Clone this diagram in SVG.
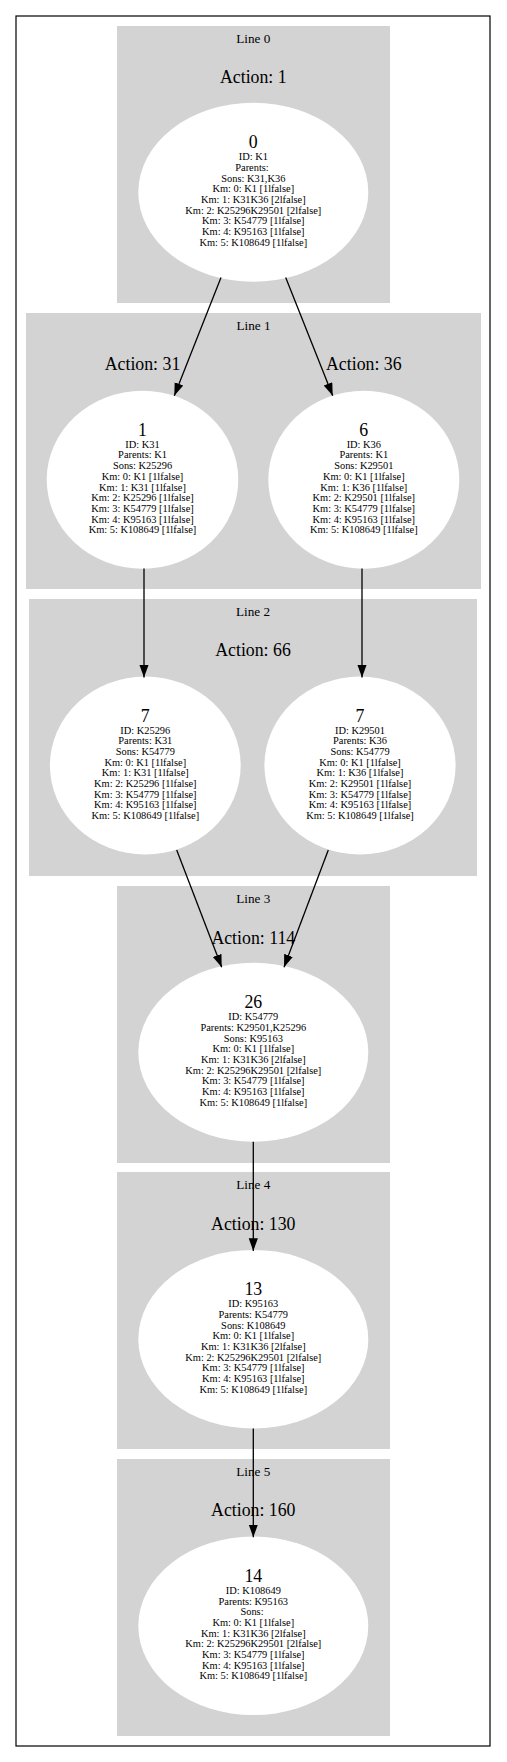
<svg xmlns="http://www.w3.org/2000/svg" width="507" height="1762" viewBox="0 0 507 1762">
<style>
  .bg { fill: #ffffff; }
  .frame { fill: none; stroke: #000000; stroke-width: 1.2; }
  .cluster { fill: #d3d3d3; stroke: none; }
  .node { fill: #ffffff; stroke: none; }
  text { font-family: "Liberation Serif", "Times New Roman", serif; fill: #000000; text-anchor: middle; }
  .clabel { font-size: 13.2px; }
  .action { font-size: 17.8px; }
  .num { font-size: 17.8px; }
  .small { font-size: 10.4px; }
  .edge { fill: none; stroke: #000000; stroke-width: 1.3; }
</style>
<defs>
  <marker id="arrow" markerUnits="userSpaceOnUse" markerWidth="13" markerHeight="10" refX="12.7" refY="4.6" orient="auto">
    <path d="M0,0 L12.7,4.6 L0,9.2 z" fill="#000000"/>
  </marker>
</defs>
<rect class="bg" x="0" y="0" width="507" height="1762"/>
<rect class="frame" x="16" y="16" width="474" height="1730"/>

<g id="clusters">
  <g id="cluster-line0">
    <rect class="cluster" x="117" y="26" width="273" height="277"/>
    <text class="clabel" x="253.3" y="42.7">Line 0</text>
    <text class="action" x="253.3" y="83">Action: 1</text>
  </g>
  <g id="cluster-line1">
    <rect class="cluster" x="26" y="313" width="455" height="276"/>
    <text class="clabel" x="253.5" y="329.5">Line 1</text>
    <text class="action" x="142.5" y="370">Action: 31</text>
    <text class="action" x="363.8" y="370">Action: 36</text>
  </g>
  <g id="cluster-line2">
    <rect class="cluster" x="29" y="599" width="448" height="277"/>
    <text class="clabel" x="253" y="615.7">Line 2</text>
    <text class="action" x="253" y="656">Action: 66</text>
  </g>
  <g id="cluster-line3">
    <rect class="cluster" x="117" y="886" width="273" height="277"/>
    <text class="clabel" x="253.3" y="902.7">Line 3</text>
    <text class="action" x="253.3" y="944">Action: 114</text>
  </g>
  <g id="cluster-line4">
    <rect class="cluster" x="117" y="1172" width="273" height="277"/>
    <text class="clabel" x="253.3" y="1188.7">Line 4</text>
    <text class="action" x="253.3" y="1229.5">Action: 130</text>
  </g>
  <g id="cluster-line5">
    <rect class="cluster" x="117" y="1459" width="273" height="277"/>
    <text class="clabel" x="253.3" y="1475.7">Line 5</text>
    <text class="action" x="253.3" y="1516">Action: 160</text>
  </g>
</g>

<g id="node-K1">
  <ellipse class="node" cx="253.3" cy="192.2" rx="115" ry="89.5"/>
  <text class="num" x="253.3" y="148.3">0</text>
  <text class="small" x="253.3" y="160.2"><tspan x="253.3">ID: K1</tspan><tspan x="253.3" dy="10.7">Parents: </tspan><tspan x="253.3" dy="10.7">Sons: K31,K36</tspan><tspan x="253.3" dy="10.7">Km: 0: K1 [1lfalse]</tspan><tspan x="253.3" dy="10.7">Km: 1: K31K36 [2lfalse]</tspan><tspan x="253.3" dy="10.7">Km: 2: K25296K29501 [2lfalse]</tspan><tspan x="253.3" dy="10.7">Km: 3: K54779 [1lfalse]</tspan><tspan x="253.3" dy="10.7">Km: 4: K95163 [1lfalse]</tspan><tspan x="253.3" dy="10.7">Km: 5: K108649 [1lfalse]</tspan></text>
</g>

<g id="node-K31">
  <ellipse class="node" cx="142.5" cy="479.7" rx="95.8" ry="89"/>
  <text class="num" x="142.5" y="435.7">1</text>
  <text class="small" x="142.5" y="447.7"><tspan x="142.5">ID: K31</tspan><tspan x="142.5" dy="10.7">Parents: K1</tspan><tspan x="142.5" dy="10.7">Sons: K25296</tspan><tspan x="142.5" dy="10.7">Km: 0: K1 [1lfalse]</tspan><tspan x="142.5" dy="10.7">Km: 1: K31 [1lfalse]</tspan><tspan x="142.5" dy="10.7">Km: 2: K25296 [1lfalse]</tspan><tspan x="142.5" dy="10.7">Km: 3: K54779 [1lfalse]</tspan><tspan x="142.5" dy="10.7">Km: 4: K95163 [1lfalse]</tspan><tspan x="142.5" dy="10.7">Km: 5: K108649 [1lfalse]</tspan></text>
</g>

<g id="node-K36">
  <ellipse class="node" cx="363.8" cy="479.7" rx="95.5" ry="89"/>
  <text class="num" x="363.8" y="435.7">6</text>
  <text class="small" x="363.8" y="447.7"><tspan x="363.8">ID: K36</tspan><tspan x="363.8" dy="10.7">Parents: K1</tspan><tspan x="363.8" dy="10.7">Sons: K29501</tspan><tspan x="363.8" dy="10.7">Km: 0: K1 [1lfalse]</tspan><tspan x="363.8" dy="10.7">Km: 1: K36 [1lfalse]</tspan><tspan x="363.8" dy="10.7">Km: 2: K29501 [1lfalse]</tspan><tspan x="363.8" dy="10.7">Km: 3: K54779 [1lfalse]</tspan><tspan x="363.8" dy="10.7">Km: 4: K95163 [1lfalse]</tspan><tspan x="363.8" dy="10.7">Km: 5: K108649 [1lfalse]</tspan></text>
</g>

<g id="node-K25296">
  <ellipse class="node" cx="145.3" cy="765.5" rx="95.4" ry="89"/>
  <text class="num" x="145.3" y="721.5">7</text>
  <text class="small" x="145.3" y="733.5"><tspan x="145.3">ID: K25296</tspan><tspan x="145.3" dy="10.7">Parents: K31</tspan><tspan x="145.3" dy="10.7">Sons: K54779</tspan><tspan x="145.3" dy="10.7">Km: 0: K1 [1lfalse]</tspan><tspan x="145.3" dy="10.7">Km: 1: K31 [1lfalse]</tspan><tspan x="145.3" dy="10.7">Km: 2: K25296 [1lfalse]</tspan><tspan x="145.3" dy="10.7">Km: 3: K54779 [1lfalse]</tspan><tspan x="145.3" dy="10.7">Km: 4: K95163 [1lfalse]</tspan><tspan x="145.3" dy="10.7">Km: 5: K108649 [1lfalse]</tspan></text>
</g>

<g id="node-K29501">
  <ellipse class="node" cx="360" cy="765.5" rx="95.6" ry="89"/>
  <text class="num" x="360" y="721.5">7</text>
  <text class="small" x="360" y="733.5"><tspan x="360">ID: K29501</tspan><tspan x="360" dy="10.7">Parents: K36</tspan><tspan x="360" dy="10.7">Sons: K54779</tspan><tspan x="360" dy="10.7">Km: 0: K1 [1lfalse]</tspan><tspan x="360" dy="10.7">Km: 1: K36 [1lfalse]</tspan><tspan x="360" dy="10.7">Km: 2: K29501 [1lfalse]</tspan><tspan x="360" dy="10.7">Km: 3: K54779 [1lfalse]</tspan><tspan x="360" dy="10.7">Km: 4: K95163 [1lfalse]</tspan><tspan x="360" dy="10.7">Km: 5: K108649 [1lfalse]</tspan></text>
</g>

<g id="node-K54779">
  <ellipse class="node" cx="253.3" cy="1052.2" rx="115" ry="89.5"/>
  <text class="num" x="253.3" y="1008.3">26</text>
  <text class="small" x="253.3" y="1020.2"><tspan x="253.3">ID: K54779</tspan><tspan x="253.3" dy="10.7">Parents: K29501,K25296</tspan><tspan x="253.3" dy="10.7">Sons: K95163</tspan><tspan x="253.3" dy="10.7">Km: 0: K1 [1lfalse]</tspan><tspan x="253.3" dy="10.7">Km: 1: K31K36 [2lfalse]</tspan><tspan x="253.3" dy="10.7">Km: 2: K25296K29501 [2lfalse]</tspan><tspan x="253.3" dy="10.7">Km: 3: K54779 [1lfalse]</tspan><tspan x="253.3" dy="10.7">Km: 4: K95163 [1lfalse]</tspan><tspan x="253.3" dy="10.7">Km: 5: K108649 [1lfalse]</tspan></text>
</g>

<g id="node-K95163">
  <ellipse class="node" cx="253.3" cy="1339.2" rx="115" ry="89.3"/>
  <text class="num" x="253.3" y="1295.3">13</text>
  <text class="small" x="253.3" y="1307.2"><tspan x="253.3">ID: K95163</tspan><tspan x="253.3" dy="10.7">Parents: K54779</tspan><tspan x="253.3" dy="10.7">Sons: K108649</tspan><tspan x="253.3" dy="10.7">Km: 0: K1 [1lfalse]</tspan><tspan x="253.3" dy="10.7">Km: 1: K31K36 [2lfalse]</tspan><tspan x="253.3" dy="10.7">Km: 2: K25296K29501 [2lfalse]</tspan><tspan x="253.3" dy="10.7">Km: 3: K54779 [1lfalse]</tspan><tspan x="253.3" dy="10.7">Km: 4: K95163 [1lfalse]</tspan><tspan x="253.3" dy="10.7">Km: 5: K108649 [1lfalse]</tspan></text>
</g>

<g id="node-K108649">
  <ellipse class="node" cx="253.3" cy="1625.8" rx="115" ry="89.3"/>
  <text class="num" x="253.3" y="1581.9">14</text>
  <text class="small" x="253.3" y="1593.8"><tspan x="253.3">ID: K108649</tspan><tspan x="253.3" dy="10.7">Parents: K95163</tspan><tspan x="253.3" dy="10.7">Sons: </tspan><tspan x="253.3" dy="10.7">Km: 0: K1 [1lfalse]</tspan><tspan x="253.3" dy="10.7">Km: 1: K31K36 [2lfalse]</tspan><tspan x="253.3" dy="10.7">Km: 2: K25296K29501 [2lfalse]</tspan><tspan x="253.3" dy="10.7">Km: 3: K54779 [1lfalse]</tspan><tspan x="253.3" dy="10.7">Km: 4: K95163 [1lfalse]</tspan><tspan x="253.3" dy="10.7">Km: 5: K108649 [1lfalse]</tspan></text>
</g>

<g id="connectors">
  <path class="edge" d="M221,277.5 L174.3,395.7" marker-end="url(#arrow)"/>
  <path class="edge" d="M285.7,277.5 L332.7,395.7" marker-end="url(#arrow)"/>
  <path class="edge" d="M144,568.5 L144,677.5" marker-end="url(#arrow)"/>
  <path class="edge" d="M362,568.5 L362,677.5" marker-end="url(#arrow)"/>
  <path class="edge" d="M176.7,850 L221.7,967.3" marker-end="url(#arrow)"/>
  <path class="edge" d="M328.3,850 L284,967.3" marker-end="url(#arrow)"/>
  <path class="edge" d="M253.3,1141.7 L253.3,1251" marker-end="url(#arrow)"/>
  <path class="edge" d="M253.3,1428.5 L253.3,1537.3" marker-end="url(#arrow)"/>
</g>
</svg>
